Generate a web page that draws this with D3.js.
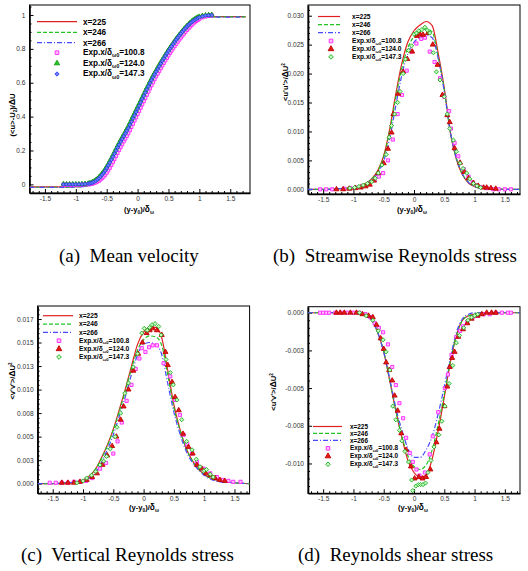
<!DOCTYPE html>
<html>
<head>
<meta charset="utf-8">
<script src="https://cdn.jsdelivr.net/npm/d3@7"></script>
<style>
  body { margin: 0; background: #fff; }
  svg { display: block; font-family: "Liberation Sans", Arial, sans-serif; }
  .cap { font-family: "Liberation Serif", "Times New Roman", serif; font-size: 19px; white-space: pre; }
</style>
</head>
<body>
<svg id="fig" width="528" height="571"></svg>
<script>
// ---- shared ticks ----
const xTicks = [-1.5, -1, -0.5, 0, 0.5, 1, 1.5];
const xTickLabels = ["-1.5", "-1", "-0.5", "0", "0.5", "1", "1.5"];
const meanYTicks = [0, 0.2, 0.4, 0.6, 0.8, 1];
const meanYLabels = ["0", "0.2", "0.4", "0.6", "0.8", "1"];
const uuYTicks = [0, 0.005, 0.01, 0.015, 0.02, 0.025, 0.03];
const uuYLabels = ["0.000", "0.005", "0.010", "0.015", "0.020", "0.025", "0.030"];
const vvYTicks = [0, 0.0025, 0.005, 0.0075, 0.01, 0.0125, 0.015, 0.0175];
const vvYLabels = ["0.000", "0.003", "0.005", "0.008", "0.010", "0.013", "0.015", "0.017"];
const uvYTicks = [0, -0.0025, -0.005, -0.0075, -0.01];
const uvYLabels = ["0.000", "-0.003", "-0.005", "-0.008", "-0.010"];

const simNames = ["x=225", "x=246", "x=266"];
const expNames = ["=100.8", "=124.0", "=147.3"];

// ---- simulation lines, common y/δω grid ----
const lineX = [-1.75,-1.5,-1.25,-1.1,-1.0,-0.9,-0.8,-0.7,-0.6,-0.5,-0.4,-0.3,-0.2,-0.1,0,0.1,0.2,0.3,0.4,0.5,0.6,0.7,0.8,0.9,1.0,1.1,1.25,1.5,1.75];

const mean225 = [-0.015,-0.015,-0.015,-0.015,-0.014,-0.012,-0.008,0.002,0.03,0.085,0.155,0.228,0.3,0.372,0.446,0.521,0.596,0.666,0.73,0.79,0.843,0.89,0.93,0.96,0.978,0.986,0.99,0.99,0.99];
const mean246 = [-0.017,-0.017,-0.017,-0.016,-0.015,-0.013,-0.009,0.001,0.029,0.084,0.154,0.227,0.299,0.371,0.445,0.52,0.595,0.665,0.729,0.789,0.842,0.889,0.929,0.959,0.977,0.985,0.989,0.989,0.989];
const mean266 = [-0.018,-0.018,-0.018,-0.017,-0.016,-0.014,-0.01,0.0,0.028,0.083,0.153,0.226,0.298,0.37,0.444,0.519,0.594,0.664,0.728,0.788,0.841,0.888,0.928,0.958,0.976,0.984,0.988,0.988,0.988];

const uu225 = [0,0,0.0001,0.0002,0.0003,0.0005,0.001,0.0018,0.0032,0.0058,0.0105,0.0165,0.0218,0.0255,0.0274,0.0284,0.029,0.0283,0.0235,0.0175,0.0098,0.0052,0.0025,0.0011,0.0005,0.0002,0.0001,0,0];
const uu246 = [0,0,0.0001,0.0002,0.0003,0.0005,0.001,0.0018,0.0031,0.0056,0.0101,0.0159,0.021,0.0245,0.0264,0.0273,0.0277,0.0272,0.0228,0.0172,0.0099,0.0053,0.0026,0.0012,0.0005,0.0002,0.0001,0,0];
const uu266 = [0,0,0.0001,0.0002,0.0003,0.0005,0.0009,0.0016,0.0028,0.0049,0.0088,0.0145,0.0198,0.0235,0.0254,0.0263,0.0266,0.0262,0.0226,0.0169,0.0099,0.0054,0.0027,0.0012,0.0005,0.0002,0.0001,0,0];

const vv225 = [0,0,0.0001,0.0002,0.0004,0.0008,0.0015,0.0027,0.0041,0.0058,0.0079,0.0101,0.0125,0.0148,0.0161,0.0166,0.0166,0.0155,0.012,0.0084,0.0058,0.0038,0.0025,0.0016,0.001,0.0006,0.0003,0.0001,0];
const vv246 = [0,0,0.0001,0.0002,0.0004,0.0008,0.0015,0.0026,0.004,0.0057,0.0077,0.0099,0.0122,0.0142,0.0153,0.0157,0.0156,0.0147,0.0115,0.0081,0.0057,0.0038,0.0025,0.0016,0.001,0.0006,0.0003,0.0001,0];
const vv266 = [0,0,0.0001,0.0002,0.0003,0.0006,0.0012,0.0022,0.0036,0.0052,0.0072,0.0093,0.0116,0.0137,0.0148,0.015,0.0148,0.0137,0.0106,0.0076,0.0053,0.0035,0.0023,0.0015,0.0009,0.0005,0.0002,0.0001,0];

const uv225 = [0,0,0,0,0,-0.0001,-0.0002,-0.0005,-0.0013,-0.0026,-0.0045,-0.0065,-0.0083,-0.0098,-0.0106,-0.0109,-0.0108,-0.0097,-0.0078,-0.0056,-0.0033,-0.0015,-0.0005,-0.0002,-0.0001,0,0,0,0];
const uv246 = [0,0,0,0,0,-0.0001,-0.0002,-0.0005,-0.0013,-0.0026,-0.0045,-0.0065,-0.0082,-0.0095,-0.0102,-0.0104,-0.0101,-0.0091,-0.0074,-0.0054,-0.0032,-0.0015,-0.0005,-0.0002,-0.0001,0,0,0,0];
const uv266 = [0,0,0,0,0,-0.0001,-0.0002,-0.0005,-0.0013,-0.0026,-0.0044,-0.0063,-0.0078,-0.009,-0.0096,-0.0096,-0.0091,-0.0082,-0.0067,-0.0049,-0.003,-0.0013,-0.0004,-0.0001,0,0,0,0,0];

// ---- experiments: mean velocity (dense profiles) ----
const meanExpX = [-1.2,-1.15,-1.1,-1.05,-1.0,-0.95,-0.9,-0.85,-0.8,
  -0.775,-0.75,-0.725,-0.7,-0.675,-0.65,-0.625,-0.6,-0.575,-0.55,-0.525,-0.5,-0.475,-0.45,-0.425,-0.4,-0.375,-0.35,-0.325,-0.3,-0.275,-0.25,-0.225,-0.2,-0.175,-0.15,-0.125,-0.1,-0.075,-0.05,-0.025,
  0,0.025,0.05,0.075,0.1,0.125,0.15,0.175,0.2,0.225,0.25,0.275,0.3,0.325,0.35,0.375,0.4,0.425,0.45,0.475,0.5,0.525,0.55,0.575,0.6,0.625,0.65,0.675,0.7,0.725,0.75,0.775,0.8,0.825,0.85,0.875,0.9,0.925,0.95,0.975,1.0,
  1.05,1.1,1.15,1.2];
const meanExp1008 = [-0.002,-0.002,-0.002,-0.002,-0.002,-0.002,-0.001,0.000,0.001,
  0.002,0.004,0.006,0.009,0.012,0.017,0.022,0.029,0.037,0.046,
  0.057,0.069,0.083,0.098,0.114,0.131,0.149,0.167,0.185,0.203,
  0.220,0.237,0.254,0.270,0.286,0.302,0.320,0.339,0.358,0.377,
  0.396,
  0.415,0.434,0.453,0.472,0.491,0.510,0.529,0.548,0.567,0.585,
  0.603,0.621,0.638,0.654,0.670,0.686,0.702,0.717,0.732,0.747,
  0.762,0.776,0.790,0.804,0.817,0.830,0.843,0.855,0.867,0.879,
  0.890,0.901,0.912,0.922,0.932,0.941,0.950,0.958,0.965,0.971,
  0.977,
  0.986,0.992,0.996,0.998];
const meanExp1240 = [0.003,0.002,0.002,0.002,0.002,0.002,0.003,0.004,0.006,
  0.008,0.011,0.015,0.020,0.026,0.034,0.043,0.053,0.064,0.076,
  0.090,0.105,0.121,0.138,0.155,0.173,0.191,0.209,0.227,0.244,
  0.261,0.278,0.294,0.310,0.327,0.344,0.363,0.382,0.401,0.420,
  0.439,
  0.457,0.476,0.495,0.514,0.533,0.552,0.571,0.589,0.607,0.625,
  0.642,0.658,0.674,0.690,0.706,0.721,0.736,0.751,0.766,0.780,
  0.794,0.808,0.821,0.834,0.847,0.860,0.872,0.884,0.895,0.906,
  0.917,0.927,0.937,0.946,0.955,0.963,0.970,0.976,0.982,0.987,
  0.991,
  0.996,0.999,1.001,1.002];
const meanExp1473 = [0.000,0.000,0.000,0.000,0.000,0.000,0.001,0.002,0.004,
  0.006,0.008,0.011,0.015,0.021,0.028,0.036,0.045,0.056,0.067,
  0.081,0.096,0.112,0.128,0.145,0.163,0.181,0.199,0.217,0.234,
  0.251,0.267,0.284,0.300,0.316,0.332,0.351,0.370,0.389,0.408,
  0.427,
  0.445,0.464,0.483,0.503,0.522,0.541,0.560,0.579,0.597,0.615,
  0.632,0.649,0.665,0.681,0.697,0.713,0.728,0.743,0.758,0.773,
  0.787,0.801,0.814,0.828,0.841,0.854,0.866,0.878,0.890,0.901,
  0.912,0.922,0.932,0.941,0.950,0.958,0.965,0.971,0.977,0.982,
  0.986,
  0.992,0.996,0.998,0.999];

// ---- experiments: <u'u'> ----
const uuX1008 = [-1.55,-1.45,-1.35,-1.15,-1.05,-0.95,-0.85,-0.75,-0.65,-0.58,-0.51,-0.43,-0.35,-0.27,-0.2,-0.12,-0.04,0.04,0.12,0.18,0.26,0.34,0.43,0.5,0.58,0.61,0.67,0.73,0.82,0.9,0.97,1.03,1.1,1.2,1.31,1.4,1.5,1.6];
const uuY1008 = [0,0,0,0.0001,0.0002,0.0003,0.0006,0.001,0.0016,0.0022,0.0028,0.005,0.0086,0.013,0.0163,0.0205,0.0238,0.0252,0.026,0.0262,0.0238,0.022,0.0192,0.016,0.0135,0.0105,0.008,0.0057,0.0035,0.0022,0.0012,0.0007,0.0004,0.0002,0,0,0,0];
const uuX1240 = [-1.28,-1.17,-1.07,-0.97,-0.88,-0.8,-0.73,-0.66,-0.59,-0.5,-0.43,-0.37,-0.34,-0.26,-0.18,-0.11,-0.03,0.05,0.1,0.15,0.23,0.31,0.39,0.47,0.55,0.59,0.67,0.76,0.83,0.9,0.98,1.06,1.15,1.2,1.27,1.35];
const uuY1240 = [0,0,0.0001,0.0002,0.0003,0.0005,0.0008,0.0015,0.0028,0.0045,0.007,0.0098,0.013,0.0165,0.0203,0.0225,0.0238,0.0265,0.0268,0.0267,0.027,0.025,0.0215,0.0163,0.0128,0.0116,0.0071,0.0046,0.003,0.0019,0.0011,0.0006,0.0003,0.0003,0.0002,0.0001];
const uuX1473 = [-1.06,-0.98,-0.91,-0.84,-0.77,-0.7,-0.64,-0.59,-0.53,-0.46,-0.41,-0.37,-0.32,-0.27,-0.23,-0.18,-0.14,-0.09,-0.04,0,0.04,0.08,0.13,0.18,0.22,0.26,0.32,0.37,0.43,0.5,0.55,0.59,0.65,0.7,0.76,0.81,0.87,0.92,0.98,1.04,1.1];
const uuY1473 = [0.0002,0.0003,0.0005,0.0007,0.001,0.0013,0.0019,0.0028,0.0042,0.006,0.009,0.011,0.013,0.015,0.0169,0.02,0.0225,0.024,0.0248,0.0268,0.027,0.0274,0.0276,0.028,0.0275,0.027,0.0236,0.0203,0.0189,0.016,0.013,0.0105,0.0085,0.0065,0.0045,0.0036,0.0028,0.0018,0.001,0.0006,0.0003];

// ---- experiments: <v'v'> ----
const vvX1008 = [-1.55,-1.45,-1.35,-1.25,-1.15,-1.05,-0.95,-0.85,-0.72,-0.62,-0.5,-0.43,-0.36,-0.28,-0.2,-0.13,-0.07,-0.03,0.03,0.09,0.15,0.22,0.33,0.44,0.52,0.6,0.66,0.72,0.8,0.88,0.99,1.1,1.21,1.3,1.4,1.48,1.6];
const vvY1008 = [0.0001,0.0001,0.0001,0.0001,0.0002,0.0002,0.0003,0.0006,0.0016,0.0022,0.0032,0.0045,0.0065,0.0088,0.0105,0.0122,0.0133,0.0144,0.014,0.0145,0.0147,0.0147,0.0128,0.0114,0.0089,0.0073,0.0052,0.0042,0.0032,0.0023,0.0016,0.0011,0.0007,0.0004,0.0003,0.0002,0.0002];
const vvX1240 = [-1.35,-1.25,-1.15,-1.05,-0.94,-0.85,-0.77,-0.68,-0.6,-0.52,-0.45,-0.38,-0.33,-0.25,-0.17,-0.09,-0.02,0.05,0.1,0.15,0.22,0.3,0.36,0.4,0.47,0.52,0.58,0.65,0.74,0.81,0.88,0.96,1.03,1.1,1.18,1.26,1.34];
const vvY1240 = [0.0001,0.0001,0.0001,0.0002,0.0004,0.0007,0.0011,0.002,0.003,0.004,0.005,0.0068,0.0082,0.01,0.012,0.0138,0.015,0.016,0.0163,0.0165,0.0163,0.0158,0.014,0.0126,0.0108,0.0092,0.0078,0.0053,0.0039,0.0032,0.002,0.0016,0.0011,0.0009,0.0006,0.0004,0.0003];
const vvX1473 = [-1.1,-1.0,-0.94,-0.86,-0.79,-0.72,-0.66,-0.61,-0.55,-0.47,-0.44,-0.38,-0.31,-0.25,-0.17,-0.1,-0.03,0.01,0.06,0.1,0.14,0.19,0.25,0.29,0.37,0.44,0.49,0.55,0.63,0.71,0.8,0.87,0.93,1.0,1.04,1.1,1.15];
const vvY1473 = [0.0001,0.0003,0.0006,0.0009,0.0013,0.002,0.0024,0.0029,0.0037,0.005,0.006,0.0075,0.0096,0.0107,0.0124,0.0138,0.016,0.0165,0.0163,0.0166,0.0169,0.017,0.0167,0.0158,0.0132,0.0118,0.0105,0.0089,0.0068,0.0045,0.0036,0.0026,0.0018,0.0014,0.0015,0.001,0.0007];

// ---- experiments: <u'v'> ----
const uvX1008 = [-1.55,-1.5,-1.45,-1.4,-1.3,-1.2,-1.1,-1.0,-0.9,-0.8,-0.72,-0.65,-0.58,-0.51,-0.43,-0.36,-0.3,-0.24,-0.18,-0.13,-0.07,-0.02,0.04,0.09,0.18,0.26,0.31,0.4,0.51,0.56,0.62,0.7,0.76,0.81,0.88,0.97,1.05,1.15,1.25,1.35,1.45,1.55,1.6];
const uvY1008 = [0,0,0,0,0,0,0,0,0,-0.0001,-0.0003,-0.0007,-0.001,-0.0013,-0.0021,-0.0036,-0.0048,-0.006,-0.007,-0.0083,-0.0093,-0.0099,-0.0104,-0.0108,-0.0106,-0.0094,-0.0082,-0.0066,-0.005,-0.0041,-0.0028,-0.0016,-0.0012,-0.0009,-0.0006,-0.0003,-0.0002,-0.0001,-0.0001,0,0,0,0];
const uvX1240 = [-1.28,-1.22,-1.15,-1.05,-0.95,-0.85,-0.75,-0.68,-0.62,-0.55,-0.5,-0.46,-0.41,-0.36,-0.32,-0.27,-0.21,-0.13,-0.05,0.01,0.08,0.14,0.2,0.27,0.37,0.42,0.5,0.55,0.59,0.63,0.67,0.73,0.81,0.88,0.95,1.05,1.12,1.2,1.28,1.35];
const uvY1240 = [0,0,0,0,0,-0.0001,-0.0002,-0.0003,-0.0008,-0.0017,-0.0024,-0.0033,-0.0038,-0.0045,-0.0055,-0.0065,-0.008,-0.0091,-0.0102,-0.011,-0.0109,-0.011,-0.0109,-0.0104,-0.0086,-0.0077,-0.0062,-0.0049,-0.0036,-0.003,-0.0026,-0.0016,-0.0011,-0.0007,-0.0004,-0.0002,-0.0001,0,0,0];
const uvX1473 = [-0.9,-0.79,-0.68,-0.59,-0.51,-0.46,-0.4,-0.35,-0.3,-0.24,-0.2,-0.15,-0.09,-0.04,-0.02,0.03,0.07,0.11,0.15,0.19,0.23,0.28,0.33,0.41,0.46,0.51,0.58,0.64,0.7,0.75,0.82,0.89,0.95,1.0,1.05];
const uvY1473 = [0,-0.0002,-0.0005,-0.0012,-0.0018,-0.0026,-0.0038,-0.0062,-0.0071,-0.0078,-0.0085,-0.0092,-0.0099,-0.0111,-0.0118,-0.0115,-0.0114,-0.0114,-0.0114,-0.0113,-0.0106,-0.0098,-0.0089,-0.0081,-0.0072,-0.0062,-0.0047,-0.0035,-0.002,-0.0015,-0.001,-0.0005,-0.0003,-0.0002,-0.0001];

// ---- styles ----
const lineStyles = [
  {color: "#e02020", dash: null},
  {color: "#22c322", dash: "4,2"},
  {color: "#4a4aff", dash: "5,2,1,2"}
];
const diamond = d3.symbolDiamond2 || d3.symbolDiamond;
const magSq = {type: d3.symbolSquare, size: 10, fill: "#ffc4ff", stroke: "#ff22ff"};
const redTri = {type: d3.symbolTriangle, size: 11, fill: "#e41a1a", stroke: "#c00000"};
const grnDia = {type: diamond, size: 11, fill: "#c4ffc4", stroke: "#1faa1f"};
const grnTri = {type: d3.symbolTriangle, size: 9, fill: "#22cc22", stroke: "#119911"};
const bluDia = {type: diamond, size: 9, fill: "#6f7fff", stroke: "#2a3cf0"};

const fig = d3.select("#fig");

// text with sub/superscripts
function rich(text, parts, size) {
  let shift = 0;
  parts.forEach(p => {
    const s = typeof p === "string" ? {t: p} : p;
    const target = s.sub ? size * 0.25 : s.sup ? -size * 0.4 : 0;
    const ts = text.append("tspan").text(s.t).attr("dy", target - shift);
    if (s.sub || s.sup) ts.attr("font-size", size * 0.62);
    if (s.big) ts.attr("font-size", size * 1.1);
    shift = target;
  });
}

const xTitle = ["(y-y", {t: "0", sub: true}, ")/", {t: "δ", big: true}, {t: "ω", sub: true}];

function panel(cfg) {
  const g = fig.append("g");
  const x = d3.scaleLinear().domain(cfg.xDomain).range([cfg.left, cfg.right]);
  const y = d3.scaleLinear().domain(cfg.yDomain).range([cfg.bottom, cfg.top]);
  const clipId = "clip-" + cfg.name;
  fig.append("clipPath").attr("id", clipId).append("rect")
    .attr("x", cfg.left).attr("y", cfg.top)
    .attr("width", cfg.right - cfg.left).attr("height", cfg.bottom - cfg.top);

  // minor ticks
  const xMinor = d3.range(-17, 18).map(d => d / 10).filter(d => xTicks.indexOf(d) < 0);
  g.append("g").attr("transform", `translate(0,${cfg.bottom})`)
    .call(d3.axisBottom(x).tickValues(xMinor).tickSize(-2).tickSizeOuter(0).tickFormat(""))
    .call(a => a.select(".domain").remove());
  g.append("g").attr("transform", `translate(${cfg.left},0)`)
    .call(d3.axisLeft(y).tickValues(cfg.yMinor).tickSize(-2).tickSizeOuter(0).tickFormat(""))
    .call(a => a.select(".domain").remove());

  // major ticks
  const xa = g.append("g").attr("transform", `translate(0,${cfg.bottom})`)
    .call(d3.axisBottom(x).tickValues(xTicks).tickSize(-4).tickSizeOuter(0).tickPadding(3)
      .tickFormat((d, i) => xTickLabels[i]));
  const ya = g.append("g").attr("transform", `translate(${cfg.left},0)`)
    .call(d3.axisLeft(y).tickValues(cfg.yTicks).tickSize(-4).tickSizeOuter(0).tickPadding(4)
      .tickFormat((d, i) => cfg.yLabels[i]));
  [xa, ya].forEach(a => {
    a.selectAll("text").attr("font-size", 6.6).attr("fill", "#333").attr("font-family", "Liberation Sans, Arial, sans-serif");
    a.select(".domain").attr("stroke-width", 1.6);
  });

  // frame
  g.append("rect").attr("x", cfg.left).attr("y", cfg.top)
    .attr("width", cfg.right - cfg.left).attr("height", cfg.bottom - cfg.top)
    .attr("fill", "none").attr("stroke", "#000").attr("stroke-width", 1);

  const plot = g.append("g").attr("clip-path", `url(#${clipId})`);
  const line = d3.line().x((d, i) => x(lineX[i])).y(d => y(d)).curve(d3.curveMonotoneX);
  cfg.lines.forEach((vals, k) => {
    plot.append("path").datum(vals).attr("d", line)
      .attr("fill", "none").attr("stroke", lineStyles[k].color).attr("stroke-width", 1.2)
      .attr("stroke-dasharray", lineStyles[k].dash);
  });
  cfg.exp.forEach((s, k) => {
    const m = cfg.markers[k];
    const sym = d3.symbol().type(m.type).size(m.size);
    plot.append("g").selectAll("path").data(s.y).join("path")
      .attr("transform", (d, i) => `translate(${x(s.x[i])},${y(d)})`)
      .attr("d", sym)
      .attr("fill", m.fill).attr("stroke", m.stroke).attr("stroke-width", 0.9);
  });

  // axis titles
  const xt = g.append("text").attr("x", cfg.xTitlePos[0]).attr("y", cfg.xTitlePos[1])
    .attr("text-anchor", "middle").attr("font-size", 7.6).attr("font-weight", "bold");
  rich(xt, xTitle, 7.6);
  const yt = g.append("text").attr("text-anchor", "middle").attr("font-size", 7.6).attr("font-weight", "bold")
    .attr("transform", `translate(${cfg.yTitlePos[0]},${cfg.yTitlePos[1]}) rotate(-90)`);
  rich(yt, cfg.yTitle, 7.6);

  // legend
  const L = cfg.legend;
  const lg = g.append("g").attr("font-weight", "bold").attr("font-size", L.size);
  simNames.forEach((name, k) => {
    const yy = L.rows[k];
    lg.append("line").attr("x1", L.x1).attr("x2", L.x2).attr("y1", yy).attr("y2", yy)
      .attr("stroke", lineStyles[k].color).attr("stroke-width", 1.2)
      .attr("stroke-dasharray", lineStyles[k].dash);
    lg.append("text").attr("x", L.tx).attr("y", yy).attr("dy", "0.35em").text(name);
  });
  expNames.forEach((name, k) => {
    const yy = L.rows[k + 3];
    const m = cfg.markers[k];
    lg.append("path").attr("transform", `translate(${L.sx},${yy})`)
      .attr("d", d3.symbol().type(m.type).size(m.size + 3))
      .attr("fill", m.fill).attr("stroke", m.stroke).attr("stroke-width", 0.9);
    const t = lg.append("text").attr("x", L.tx).attr("y", yy + 0.3 * L.size);
    rich(t, ["Exp.x/δ", {t: "ω0", sub: true}, name], L.size);
  });
}

panel({
  name: "a", left: 29.5, right: 250, top: 5, bottom: 193,
  xDomain: [-1.75, 1.82], yDomain: [-0.051, 1.059],
  yTicks: meanYTicks, yLabels: meanYLabels,
  yMinor: d3.range(-1, 22).map(d => d * 0.05).filter(d => d > -0.05 && d < 1.059 && Math.abs(d * 5 - Math.round(d * 5)) > 1e-6),
  lines: [mean225, mean246, mean266],
  exp: [{x: meanExpX, y: meanExp1008}, {x: meanExpX, y: meanExp1240}, {x: meanExpX, y: meanExp1473}],
  markers: [magSq, grnTri, bluDia],
  xTitlePos: [139, 212], yTitlePos: [15, 115],
  yTitle: ["(<u>-U", {t: "2", sub: true}, ")/", {t: "Δ", big: true}, "U"],
  legend: {size: 8.2, x1: 37, x2: 77, sx: 57, tx: 83, rows: [21.7, 32.3, 42.7, 52.7, 63.3, 74]}
});

panel({
  name: "b", left: 308, right: 520, top: 5, bottom: 194,
  xDomain: [-1.75, 1.75], yDomain: [-0.00081, 0.03185],
  yTicks: uuYTicks, yLabels: uuYLabels,
  yMinor: d3.range(0, 32).map(d => d * 0.001).filter(d => d % 0.005 > 1e-9 && 0.005 - (d % 0.005) > 1e-9),
  lines: [uu225, uu246, uu266],
  exp: [{x: uuX1008, y: uuY1008}, {x: uuX1240, y: uuY1240}, {x: uuX1473, y: uuY1473}],
  markers: [magSq, redTri, grnDia],
  xTitlePos: [412, 212], yTitlePos: [288, 82],
  yTitle: ["<u'u'>/", {t: "Δ", big: true}, "U", {t: "2", sup: true}],
  legend: {size: 6.6, x1: 318, x2: 340, sx: 331, tx: 352, rows: [16.5, 24.6, 32.7, 41, 49, 56.9]}
});

panel({
  name: "c", left: 37.6, right: 249.6, top: 306, bottom: 493.3,
  xDomain: [-1.75, 1.75], yDomain: [-0.00102, 0.01888],
  yTicks: vvYTicks, yLabels: vvYLabels,
  yMinor: d3.range(-2, 38).map(d => d * 0.0005).filter((d, i) => (i - 2) % 5 !== 0),
  lines: [vv225, vv246, vv266],
  exp: [{x: vvX1008, y: vvY1008}, {x: vvX1240, y: vvY1240}, {x: vvX1473, y: vvY1473}],
  markers: [magSq, redTri, grnDia],
  xTitlePos: [144, 510], yTitlePos: [15, 381],
  yTitle: ["<v'v'>/", {t: "Δ", big: true}, "U", {t: "2", sup: true}],
  legend: {size: 6.7, x1: 43, x2: 73, sx: 59, tx: 79, rows: [315.7, 324.1, 332.4, 340.7, 349, 357]}
});

panel({
  name: "d", left: 308, right: 520, top: 306.7, bottom: 493.3,
  xDomain: [-1.75, 1.75], yDomain: [-0.01198, 0.0004],
  yTicks: uvYTicks, yLabels: uvYLabels,
  yMinor: d3.range(-23, 1).map(d => d * 0.0005).filter(d => Math.abs(d / 0.0025 - Math.round(d / 0.0025)) > 1e-6),
  lines: [uv225, uv246, uv266],
  exp: [{x: uvX1008, y: uvY1008}, {x: uvX1240, y: uvY1240}, {x: uvX1473, y: uvY1473}],
  markers: [magSq, redTri, grnDia],
  xTitlePos: [413, 510], yTitlePos: [276, 392],
  yTitle: ["<u'v'>/", {t: "Δ", big: true}, "U", {t: "2", sup: true}],
  legend: {size: 6.4, x1: 313, x2: 342, sx: 328, tx: 350, rows: [426.5, 433.4, 440.3, 448.3, 456.2, 464.3]}
});

// captions
const captions = [
  {text: "(a)  Mean velocity", x: 59, y: 262},
  {text: "(b)  Streamwise Reynolds stress", x: 273, y: 262},
  {text: "(c)  Vertical Reynolds stress", x: 21, y: 561},
  {text: "(d)  Reynolds shear stress", x: 298, y: 561}
];
fig.selectAll(".cap").data(captions).join("text").attr("class", "cap")
  .attr("x", d => d.x).attr("y", d => d.y).text(d => d.text);
</script>
</body>
</html>
